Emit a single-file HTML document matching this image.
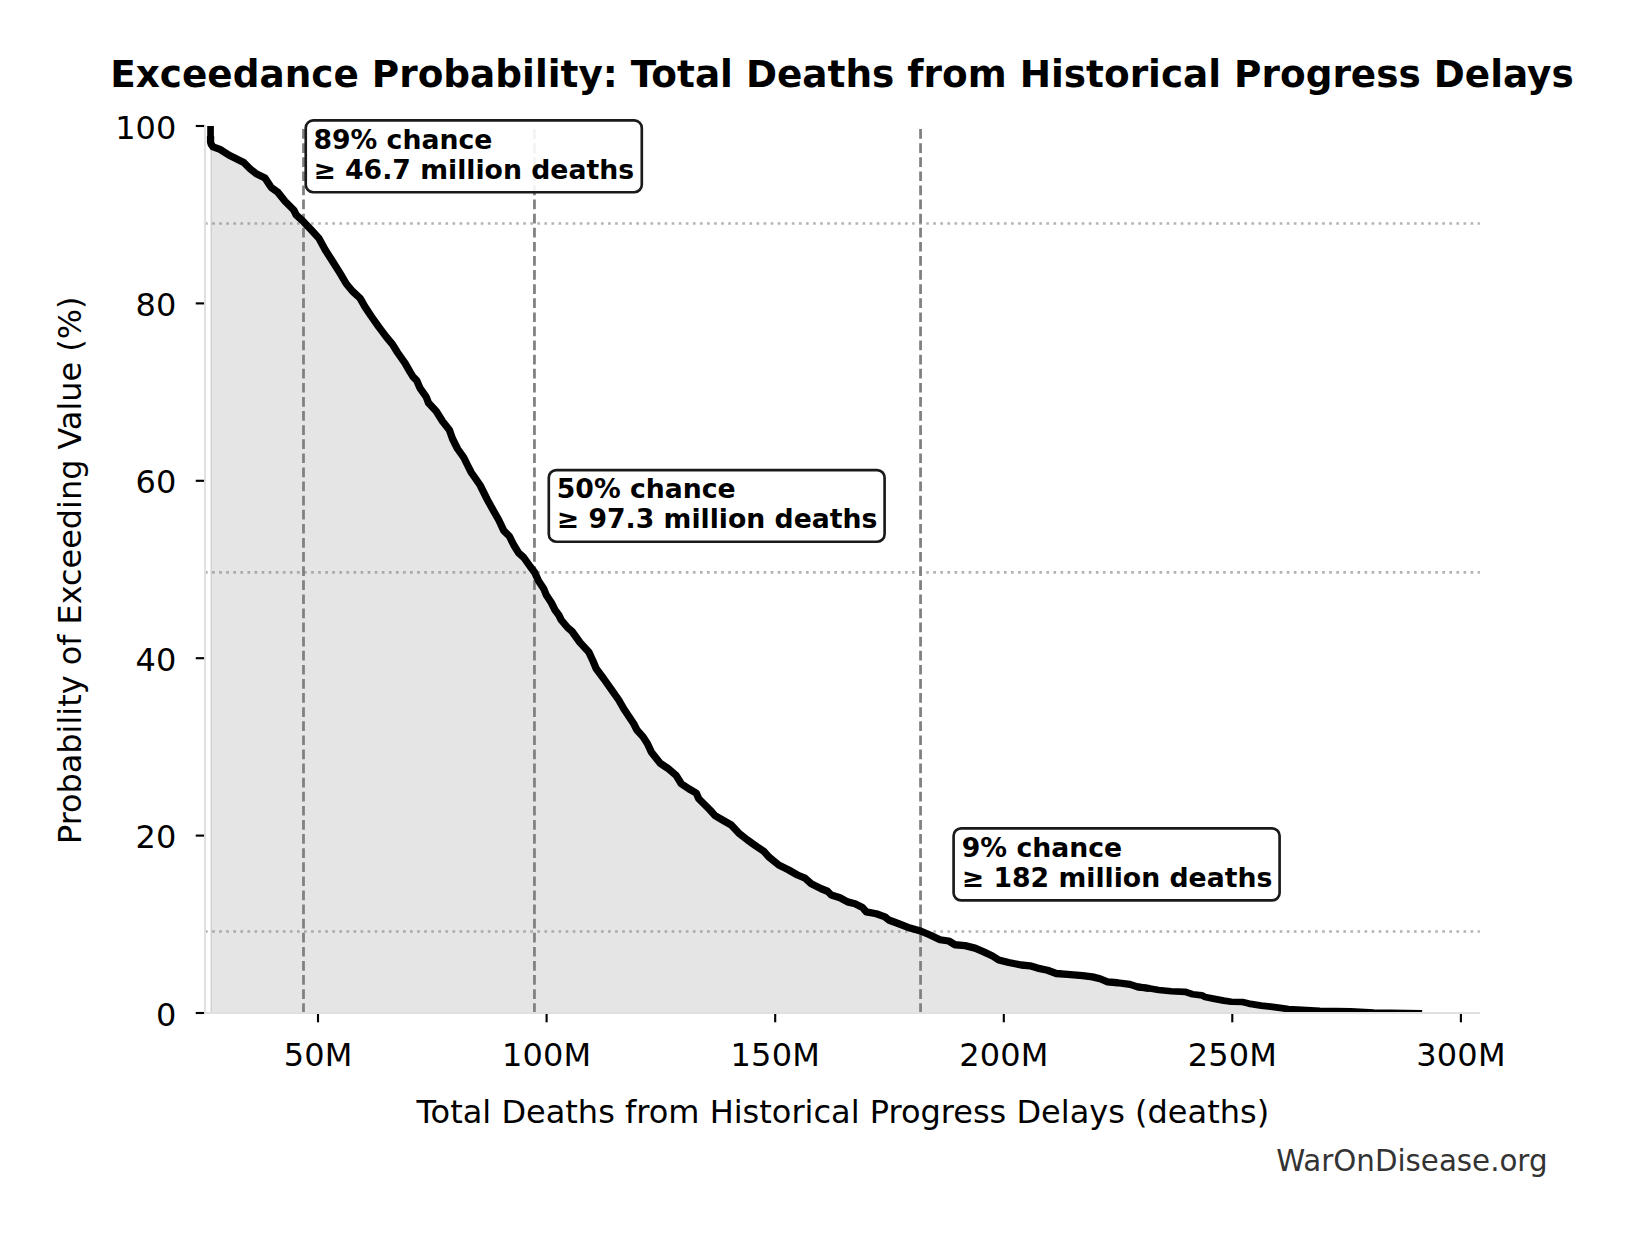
<!DOCTYPE html>
<html lang="en"><head><meta charset="utf-8"><title>Exceedance Probability</title>
<style>
html,body{margin:0;padding:0;background:#fff;}
body{width:1631px;height:1234px;overflow:hidden;}
svg{display:block;}
text{font-family:"DejaVu Sans","Liberation Sans",sans-serif;fill:#000;}
.b{font-weight:bold;}
.tk{font-size:32px;}
.an{font-size:26.7px;font-weight:bold;}
</style></head><body>
<svg width="1631" height="1234" viewBox="0 0 1631 1234">
<rect width="1631" height="1234" fill="#fff"/>
<defs><clipPath id="ax"><rect x="205.05" y="126" width="1274.85" height="887"/></clipPath></defs>

<g clip-path="url(#ax)">
<polygon points="211.05,126 211.05,141.9 211.3,144.6 213.1,146.9 220,149.4 228.75,155 243.75,162.5 250,168.75 256.25,173.75 265,178.1 271.25,187.5 277.5,191.9 285,201.25 293.75,210 296.25,215 303.75,221.9 312.5,231.25 318.75,238.1 325,249.5 332.5,261.25 340,273.1 346.25,283.75 352.5,291.25 360,298.1 365,306.9 371.25,316.25 378.75,326.9 386.25,336.9 392.5,344.4 397.5,352.5 405,363.1 410,371.9 413.1,376.9 416.6,380.3 420,388.1 426.25,397 428.6,403.1 436.25,411.25 442.5,421.25 449.4,430 452.5,438.75 457.5,448.75 463.75,457.5 468.1,466.25 471.25,472.5 480,485 485,495 487.5,500 493.75,511.25 498.75,520 503.75,530.6 509.4,536.25 513.75,545 518.75,553.1 523.75,557.5 530,566.25 534.4,571.9 538.75,581.25 543.75,588.75 546.25,595 551.25,602.5 555,610 558.75,615 561.25,620 567.5,627.5 571.9,631.25 580,642.5 588.75,651.9 593.1,661.25 596.25,668.75 603.75,678.75 611.25,689.4 618.75,700 623.75,708.75 628.75,716.25 633.75,723.75 636.9,730 643.1,736.9 647.5,743.75 651.25,751.9 656,758 660,763.1 667.5,768.1 676.25,775.6 681.25,783.75 688.75,788.75 696.25,793.1 698.75,798.75 703.75,803.75 710,810 715,815.6 722.5,820 731.25,825 738.75,833.1 747.5,840 756.25,846.25 763.75,851.25 768.75,856.9 778.75,865 788.75,870 797.5,875 805,878.1 811.25,883.75 821.25,888.75 827.5,891.25 831.25,895 840,897.8 847.5,901.9 855,903.75 862.5,907.5 866.25,911.9 876.25,913.75 885,916.9 888.75,920 898.75,923.75 910,928.1 920.6,931 930,935 940,939.75 948.75,941 955,944.75 965,945.6 975,948.1 983.75,951.9 992.5,956 998.75,960 1008.75,962.5 1021.25,965 1030,965.8 1037.5,968.1 1047.5,970.25 1056.25,973.5 1067.5,974.4 1082.5,975.6 1092.5,976.9 1100,978.75 1107.5,981.9 1117.5,982.75 1130,984.4 1137.5,986.9 1150,988.5 1158.75,990 1171.25,991.25 1185,991.8 1192.5,994.25 1201.9,995.3 1205,997 1214.4,998.9 1223.75,1000.6 1231.25,1001.75 1242.5,1002 1248.75,1003.6 1261.25,1005.6 1270.6,1006.6 1281.9,1008.1 1288.5,1009.1 1320,1010.8 1351,1011.45 1373.75,1012.7 1422.1,1013.3 1422.1,1013 211.05,1013" fill="#000" fill-opacity="0.1" stroke="#000" stroke-opacity="0.1" stroke-width="1.8" stroke-linejoin="round"/>
<line x1="205.05" x2="1479.9" y1="223.5" y2="223.5" stroke="#808080" stroke-opacity="0.6" stroke-width="2.66" stroke-dasharray="2.66 4.41"/>
<line x1="205.05" x2="1479.9" y1="572.4" y2="572.4" stroke="#808080" stroke-opacity="0.6" stroke-width="2.66" stroke-dasharray="2.66 4.41"/>
<line x1="205.05" x2="1479.9" y1="931.5" y2="931.5" stroke="#808080" stroke-opacity="0.6" stroke-width="2.66" stroke-dasharray="2.66 4.41"/>
<line x1="303.5" x2="303.5" y1="1013.0" y2="126.0" stroke="#808080" stroke-width="2.76" stroke-dasharray="9.7 4.4"/>
<line x1="534.45" x2="534.45" y1="1013.0" y2="126.0" stroke="#808080" stroke-width="2.76" stroke-dasharray="9.7 4.4"/>
<line x1="920.55" x2="920.55" y1="1013.0" y2="126.0" stroke="#808080" stroke-width="2.76" stroke-dasharray="9.7 4.4"/>
<polyline points="210.55,125 210.55,141.9" fill="none" stroke="#000" stroke-width="6.7" stroke-linecap="butt"/>
<polyline points="210.55,136 210.55,141.9 211.3,144.6 213.1,146.9 220,149.4 228.75,155 243.75,162.5 250,168.75 256.25,173.75 265,178.1 271.25,187.5 277.5,191.9 285,201.25 293.75,210 296.25,215 303.75,221.9 312.5,231.25 318.75,238.1 325,249.5 332.5,261.25 340,273.1 346.25,283.75 352.5,291.25 360,298.1 365,306.9 371.25,316.25 378.75,326.9 386.25,336.9 392.5,344.4 397.5,352.5 405,363.1 410,371.9 413.1,376.9 416.6,380.3 420,388.1 426.25,397 428.6,403.1 436.25,411.25 442.5,421.25 449.4,430 452.5,438.75 457.5,448.75 463.75,457.5 468.1,466.25 471.25,472.5 480,485 485,495 487.5,500 493.75,511.25 498.75,520 503.75,530.6 509.4,536.25 513.75,545 518.75,553.1 523.75,557.5 530,566.25 534.4,571.9 538.75,581.25 543.75,588.75 546.25,595 551.25,602.5 555,610 558.75,615 561.25,620 567.5,627.5 571.9,631.25 580,642.5 588.75,651.9 593.1,661.25 596.25,668.75 603.75,678.75 611.25,689.4 618.75,700 623.75,708.75 628.75,716.25 633.75,723.75 636.9,730 643.1,736.9 647.5,743.75 651.25,751.9 656,758 660,763.1 667.5,768.1 676.25,775.6 681.25,783.75 688.75,788.75 696.25,793.1 698.75,798.75 703.75,803.75 710,810 715,815.6 722.5,820 731.25,825 738.75,833.1 747.5,840 756.25,846.25 763.75,851.25 768.75,856.9 778.75,865 788.75,870 797.5,875 805,878.1 811.25,883.75 821.25,888.75 827.5,891.25 831.25,895 840,897.8 847.5,901.9 855,903.75 862.5,907.5 866.25,911.9 876.25,913.75 885,916.9 888.75,920 898.75,923.75 910,928.1 920.6,931 930,935 940,939.75 948.75,941 955,944.75 965,945.6 975,948.1 983.75,951.9 992.5,956 998.75,960 1008.75,962.5 1021.25,965 1030,965.8 1037.5,968.1 1047.5,970.25 1056.25,973.5 1067.5,974.4 1082.5,975.6 1092.5,976.9 1100,978.75 1107.5,981.9 1117.5,982.75 1130,984.4 1137.5,986.9 1150,988.5" fill="none" stroke="#000" stroke-width="7.3" stroke-linejoin="round" stroke-linecap="butt"/>
<polyline points="1137.5,986.9 1150,988.5 1158.75,990 1171.25,991.25 1185,991.8 1192.5,994.25 1201.9,995.3 1205,997 1214.4,998.9 1223.75,1000.6 1231.25,1001.75 1242.5,1002 1248.75,1003.6 1261.25,1005.6 1270.6,1006.6 1281.9,1008.1 1288.5,1009.1 1320,1010.8 1351,1011.45 1373.75,1012.7 1422.1,1013.3" fill="none" stroke="#000" stroke-width="6.75" stroke-linejoin="round" stroke-linecap="butt"/>
</g>
<line x1="318" x2="318" y1="1013.0" y2="1022.3" stroke="#000" stroke-width="2.13"/>
<text class="tk" x="318.1" y="1066.3" text-anchor="middle" letter-spacing="0.2">50M</text>
<line x1="546.6" x2="546.6" y1="1013.0" y2="1022.3" stroke="#000" stroke-width="2.13"/>
<text class="tk" x="546.7" y="1066.3" text-anchor="middle" letter-spacing="0.2">100M</text>
<line x1="775.2" x2="775.2" y1="1013.0" y2="1022.3" stroke="#000" stroke-width="2.13"/>
<text class="tk" x="775.3000000000001" y="1066.3" text-anchor="middle" letter-spacing="0.2">150M</text>
<line x1="1003.8" x2="1003.8" y1="1013.0" y2="1022.3" stroke="#000" stroke-width="2.13"/>
<text class="tk" x="1003.9" y="1066.3" text-anchor="middle" letter-spacing="0.2">200M</text>
<line x1="1232.3" x2="1232.3" y1="1013.0" y2="1022.3" stroke="#000" stroke-width="2.13"/>
<text class="tk" x="1232.3999999999999" y="1066.3" text-anchor="middle" letter-spacing="0.2">250M</text>
<line x1="1460.9" x2="1460.9" y1="1013.0" y2="1022.3" stroke="#000" stroke-width="2.13"/>
<text class="tk" x="1461.0" y="1066.3" text-anchor="middle" letter-spacing="0.2">300M</text>
<line x1="205.05" x2="195.75" y1="1013.00" y2="1013.00" stroke="#000" stroke-width="2.13"/>
<text class="tk" x="176.3" y="1025.50" text-anchor="end">0</text>
<line x1="205.05" x2="195.75" y1="835.60" y2="835.60" stroke="#000" stroke-width="2.13"/>
<text class="tk" x="176.3" y="848.10" text-anchor="end">20</text>
<line x1="205.05" x2="195.75" y1="658.20" y2="658.20" stroke="#000" stroke-width="2.13"/>
<text class="tk" x="176.3" y="670.70" text-anchor="end">40</text>
<line x1="205.05" x2="195.75" y1="480.80" y2="480.80" stroke="#000" stroke-width="2.13"/>
<text class="tk" x="176.3" y="493.30" text-anchor="end">60</text>
<line x1="205.05" x2="195.75" y1="303.40" y2="303.40" stroke="#000" stroke-width="2.13"/>
<text class="tk" x="176.3" y="315.90" text-anchor="end">80</text>
<line x1="205.05" x2="195.75" y1="126.00" y2="126.00" stroke="#000" stroke-width="2.13"/>
<text class="tk" x="176.3" y="138.50" text-anchor="end">100</text>
<line x1="205.05" x2="205.05" y1="124.93" y2="1014.0" stroke="#e0e0e0" stroke-width="2.0"/>
<line x1="204.05" x2="1479.9" y1="1013.0" y2="1013.0" stroke="#e0e0e0" stroke-width="2.0"/>
<rect x="305.75" y="120.4" width="336.04999999999995" height="71.85" rx="7.5" ry="7.5" fill="#fff" fill-opacity="0.9" stroke="#1a1a1a" stroke-width="2.66"/>
<text class="an" x="313.4" y="148.6">89% chance</text>
<text class="an" x="313.4" y="178.6">≥ 46.7 million deaths</text>
<rect x="548.8" y="470.1" width="335.80000000000007" height="71.64999999999998" rx="7.5" ry="7.5" fill="#fff" fill-opacity="0.9" stroke="#1a1a1a" stroke-width="2.66"/>
<text class="an" x="556.8" y="497.8">50% chance</text>
<text class="an" x="556.8" y="527.8">≥ 97.3 million deaths</text>
<rect x="953.6" y="828.3" width="325.9999999999999" height="72.10000000000002" rx="7.5" ry="7.5" fill="#fff" fill-opacity="0.9" stroke="#1a1a1a" stroke-width="2.66"/>
<text class="an" x="961.8" y="856.5">9% chance</text>
<text class="an" x="961.8" y="886.5">≥ 182 million deaths</text>
<text class="b" x="841.9" y="87" text-anchor="middle" font-size="37.4">Exceedance Probability: Total Deaths from Historical Progress Delays</text>
<text x="842.8" y="1122.8" text-anchor="middle" font-size="32">Total Deaths from Historical Progress Delays (deaths)</text>
<text transform="translate(81.3,570.3) rotate(-90)" text-anchor="middle" font-size="31.9">Probability of Exceeding Value (%)</text>
<text x="1547.5" y="1171" text-anchor="end" font-size="29.3" style="fill:#333">WarOnDisease.org</text>
</svg></body></html>
